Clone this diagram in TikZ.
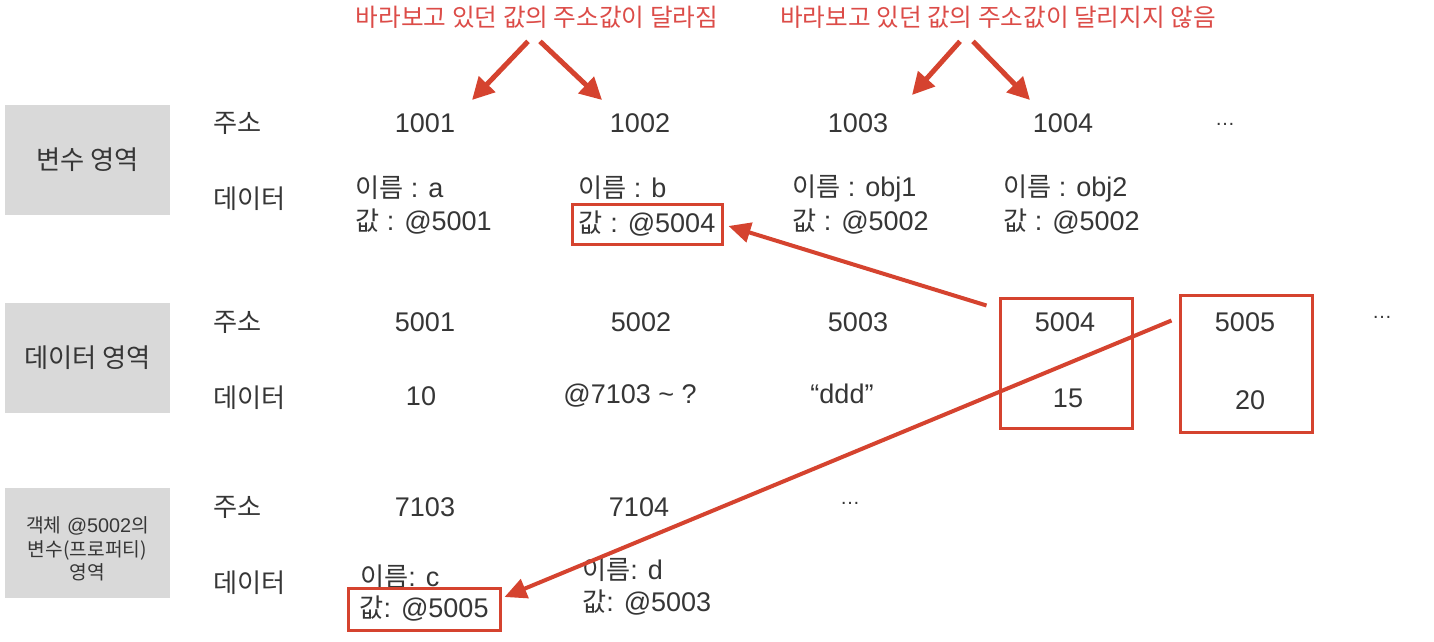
\documentclass[tikz,border=0pt]{standalone}
\usepackage{fontspec}
\setmainfont{Liberation Sans}
\newfontfamily\kr{Noto Sans CJK KR}[Scale=0.97]
\usetikzlibrary{arrows.meta,calc}
\definecolor{txt}{HTML}{363636}
\definecolor{redl}{HTML}{D5432F}
\definecolor{redt}{HTML}{DC4C48}
\definecolor{grayb}{HTML}{D9D9D9}
\begin{document}
\begin{tikzpicture}[x=1pt,y=-1pt,
  every node/.style={text=txt, inner sep=0pt, font=\fontsize{27}{32}\selectfont},
  lbl/.style={anchor=west},
  cell/.style={anchor=west},
  graybox/.style={fill=grayb, minimum width=165pt, font=\fontsize{27.1}{31}\selectfont},
  redbox/.style={draw=redl, line width=3pt},
  note/.style={text=redt, font=\fontsize{25.4}{29}\selectfont\kr},
  dotsn/.style={font=\fontsize{20}{24}\selectfont},
  arr/.style={draw=redl, line width=5pt, -{Triangle[length=22pt,width=22pt]}},
  longarr/.style={draw=redl, line width=4pt, -{Triangle[length=22pt,width=20pt]}}
]
\useasboundingbox (0,0) rectangle (1434,642);
\fill[white] (0,0) rectangle (1434,642);

% gray region boxes
\node[graybox, minimum height=110pt] (g1) at (87.5,160) {\kr 변수 영역};
\node[graybox, minimum height=110pt] (g2) at (87.5,358) {\kr 데이터 영역};
\node[graybox, minimum height=110pt] (g3) at (87.5,543) {};
\node[align=center, font=\fontsize{19.8}{23.5}\selectfont] (g3t) at (87.5,549)
  {{\kr 객체} @5002{\kr 의}\\{\kr 변수(프로퍼티)}\\{\kr 영역}};

% top notes
\node[note] (t1) at (537,17) {바라보고 있던 값의 주소값이 달라짐};
\node[note] (t2) at (998,17) {바라보고 있던 값의 주소값이 달리지지 않음};

% row 1 : variable area
\node[lbl] (r1a) at (213,123) {\kr 주소};
\node[lbl] (r1d) at (213,199) {\kr 데이터};
\node (a1001) at (425,123) {1001};
\node (a1002) at (640,123) {1002};
\node (a1003) at (858,123) {1003};
\node (a1004) at (1063,123) {1004};
\node[dotsn] (d1) at (1225,124) {…};

\node[cell] (n1) at (355,188) {{\kr 이름} : a};
\node[cell] (v1) at (355,222) {{\kr 값} : @5001};
\node[cell] (n2) at (578,188) {{\kr 이름} : b};
\node[redbox, minimum width=150pt, minimum height=40pt] (vb) at (647,224) {{\kr 값} : @5004};
\node[cell] (n3) at (792,188) {{\kr 이름} : obj1};
\node[cell] (v3) at (792,222) {{\kr 값} : @5002};
\node[cell] (n4) at (1003,188) {{\kr 이름} : obj2};
\node[cell] (v4) at (1003,222) {{\kr 값} : @5002};

% row 2 : data area
\node[lbl] (r2a) at (213,322) {\kr 주소};
\node[lbl] (r2d) at (213,398) {\kr 데이터};
\node (a5001) at (425,322) {5001};
\node (a5002) at (641,322) {5002};
\node (a5003) at (858,322) {5003};
\node (a5004) at (1065,322) {5004};
\node (a5005) at (1245,322) {5005};
\node[dotsn] (d2) at (1382,317) {…};
\node (x5001) at (421,396) {10};
\node (x5002) at (630,396) {@7103 \textasciitilde\ ?};
\node (x5003) at (842,394) {“ddd”};
\node (x5004) at (1068,398) {15};
\node (x5005) at (1250,400) {20};
\node[redbox, minimum width=132pt, minimum height=130pt] (b5004) at (1066,363) {};
\node[redbox, minimum width=132pt, minimum height=137pt] (b5005) at (1246,363.5) {};

% row 3 : object property area
\node[lbl] (r3a) at (213,507) {\kr 주소};
\node[lbl] (r3d) at (213,583) {\kr 데이터};
\node (a7103) at (425,507) {7103};
\node (a7104) at (639,507) {7104};
\node[dotsn] (d3) at (850,503) {…};
\node[cell] (n5) at (360,577) {{\kr 이름}: c};
\node[redbox, minimum width=152pt, minimum height=42pt] (vc) at (424,609) {{\kr 값}: @5005};
\node[cell] (n6) at (582,570) {{\kr 이름}: d};
\node[cell] (v6) at (582,603) {{\kr 값}: @5003};

% top arrows
\coordinate (p1) at (472,100);
\coordinate (p2) at (602,100);
\coordinate (p3) at (912,95);
\coordinate (p4) at (1030,100);
\draw[arr] ($(t1.south)+(-9,13)$) -- (p1);
\draw[arr] ($(t1.south)+(3,13)$) -- (p2);
\draw[arr] ($(t2.south)+(-38,13)$) -- (p3);
\draw[arr] ($(t2.south)+(-25,13)$) -- (p4);

% long arrows
\draw[longarr] ($(b5004.north west)+(-12,9)$) -- ($(vb.east)+(5,2)$);
\draw[longarr] ($(b5005.north west)+(-7,27)$) -- ($(vc.east)+(3,-12)$);
\end{tikzpicture}
\end{document}
